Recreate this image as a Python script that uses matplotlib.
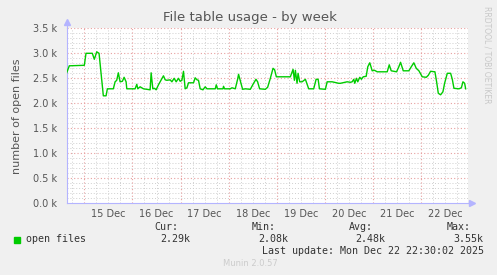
import numpy as np
import matplotlib
matplotlib.use("Agg")
import matplotlib.pyplot as plt
from matplotlib.ticker import MultipleLocator, FuncFormatter

# time in days of December 2025, value in thousands of open files
days = [14.634, 14.688, 15.000, 15.035, 15.166, 15.208, 15.258, 15.306, 15.395, 15.452,
        15.479, 15.603, 15.639, 15.673, 15.707, 15.743, 15.791, 15.826, 15.868, 15.882,
        16.055, 16.090, 16.111, 16.159, 16.228, 16.367, 16.388, 16.423, 16.457, 16.492,
        16.540, 16.575, 16.644, 16.679, 16.715, 16.783, 16.819, 16.866, 16.908, 16.956,
        16.991, 17.027, 17.060, 17.095, 17.131, 17.164, 17.268, 17.303, 17.339, 17.372,
        17.407, 17.464, 17.511, 17.547, 17.720, 17.741, 17.767, 17.880, 17.892, 17.913,
        18.032, 18.067, 18.136, 18.184, 18.204, 18.254, 18.288, 18.344, 18.448, 18.516,
        18.566, 18.600, 18.641, 18.760, 18.808, 18.864, 18.920, 18.953, 18.989, 19.280,
        19.316, 19.336, 19.364, 19.384, 19.419, 19.440, 19.474, 19.524, 19.592, 19.628,
        19.661, 19.765, 19.815, 19.857, 19.884, 20.008, 20.044, 20.148, 20.285, 20.320,
        20.460, 20.528, 20.564, 20.597, 20.618, 20.653, 20.680, 20.722, 20.757, 20.793,
        20.855, 20.888, 20.930, 20.980, 21.028, 21.084, 21.292, 21.334, 21.375, 21.486,
        21.533, 21.569, 21.625, 21.741, 21.791, 21.845, 21.895, 21.950, 22.020, 22.103,
        22.145, 22.193, 22.283, 22.318, 22.353, 22.401, 22.449, 22.484, 22.540, 22.609,
        22.644, 22.678, 22.782, 22.832, 22.865, 22.900, 22.921]
open_files = [2.61, 2.75, 2.76, 3.00, 3.00, 2.88, 3.03, 3.00, 2.15, 2.15,
              2.29, 2.29, 2.43, 2.46, 2.61, 2.43, 2.44, 2.52, 2.43, 2.29,
              2.29, 2.38, 2.29, 2.33, 2.29, 2.27, 2.61, 2.29, 2.30, 2.27,
              2.37, 2.43, 2.55, 2.47, 2.46, 2.47, 2.43, 2.50, 2.43, 2.50,
              2.44, 2.46, 2.64, 2.29, 2.31, 2.41, 2.41, 2.51, 2.47, 2.46,
              2.29, 2.27, 2.33, 2.29, 2.29, 2.37, 2.29, 2.29, 2.34, 2.29,
              2.29, 2.31, 2.29, 2.48, 2.58, 2.40, 2.28, 2.29, 2.28, 2.40,
              2.48, 2.43, 2.29, 2.28, 2.32, 2.50, 2.70, 2.67, 2.53, 2.53,
              2.63, 2.68, 2.46, 2.66, 2.40, 2.60, 2.43, 2.43, 2.48, 2.38,
              2.29, 2.29, 2.48, 2.48, 2.29, 2.28, 2.43, 2.43, 2.40, 2.40,
              2.43, 2.42, 2.43, 2.48, 2.40, 2.50, 2.43, 2.52, 2.48, 2.53,
              2.54, 2.73, 2.81, 2.65, 2.66, 2.63, 2.63, 2.77, 2.65, 2.63,
              2.73, 2.82, 2.65, 2.65, 2.73, 2.81, 2.70, 2.65, 2.53, 2.52,
              2.56, 2.64, 2.63, 2.43, 2.20, 2.17, 2.23, 2.40, 2.60, 2.60,
              2.48, 2.30, 2.29, 2.31, 2.43, 2.40, 2.29]

day_ticks = [15.5, 16.5, 17.5, 18.5, 19.5, 20.5, 21.5, 22.5]
day_labels = ["15 Dec", "16 Dec", "17 Dec", "18 Dec", "19 Dec", "20 Dec", "21 Dec", "22 Dec"]

bg = "#f0f0f0"
txt = "#555555"
axis_blue = "#b4b4ff"

fig = plt.figure(figsize=(4.97, 2.75), dpi=100, facecolor=bg)
W, H = 497, 275
x0, x1, ytop, ybot = 66.7, 468, 28.3, 203.3
ax = fig.add_axes([x0 / W, 1 - ybot / H, (x1 - x0) / W, (ybot - ytop) / H])
ax.set_facecolor("white")

# grid: minor gray, major red
for d in np.arange(14.75, 23.0, 0.25):
    if abs(d - round(d)) > 1e-6:
        ax.axvline(d, color="#cfcfcf", lw=0.7, ls=(0, (1, 2)), zorder=1)
for v in np.arange(0.1, 3.5, 0.1):
    if abs(v * 2 - round(v * 2)) > 1e-6:
        ax.axhline(v, color="#cfcfcf", lw=0.7, ls=(0, (1, 2)), zorder=1)
for d in range(15, 23):
    ax.axvline(d, color="#e8a0a0", lw=0.8, ls=(0, (1, 2)), zorder=1)
for v in np.arange(0.5, 3.51, 0.5):
    ax.axhline(v, color="#e8a0a0", lw=0.8, ls=(0, (1, 2)), zorder=1)

ax.plot(days, open_files, color="#00cc00", lw=1.0, zorder=3)

ax.set_xlim(14.634, 22.97)
ax.set_ylim(0, 3.5)
ax.set_xticks(day_ticks)
ax.set_xticklabels(day_labels)
ax.yaxis.set_major_locator(MultipleLocator(0.5))
ax.yaxis.set_major_formatter(FuncFormatter(lambda v, p: f"{v:.1f} k"))
ax.tick_params(axis="both", labelsize=7, colors=txt, length=0, pad=4)
ax.tick_params(axis="y", pad=7)
for s in ["top", "right"]:
    ax.spines[s].set_visible(False)
for s in ["left", "bottom"]:
    ax.spines[s].set_color(axis_blue)
    ax.spines[s].set_linewidth(0.8)

# axis arrows
ax.plot([0, 0], [1.0, 1.035], color=axis_blue, lw=0.8, transform=ax.transAxes, clip_on=False)
ax.plot([0], [1.035], marker="^", ms=4, color=axis_blue, transform=ax.transAxes, clip_on=False)
ax.plot([1.0, 1.01], [0, 0], color=axis_blue, lw=0.8, transform=ax.transAxes, clip_on=False)
ax.plot([1.01], [0], marker=">", ms=4, color=axis_blue, transform=ax.transAxes, clip_on=False)

ax.set_ylabel("number of open files", fontsize=8, color=txt, labelpad=8)
fig.text(250 / W, 1 - 18 / H, "File table usage - by week", ha="center", va="center",
         fontsize=9.5, color=txt)
fig.text(487 / W, 1 - 55 / H, "RRDTOOL / TOBI OETIKER", rotation=270, ha="center",
         va="center", fontsize=5.5, color="#c8c8c8")

mono = dict(family="DejaVu Sans Mono", fontsize=7.2, color="#333333", va="center")
fig.patches.append(plt.Rectangle((14 / W, 1 - 243 / H), 6 / W, 6 / H, color="#00cc00",
                                 transform=fig.transFigure, figure=fig))
fig.text(26 / W, 1 - 239.5 / H, "open files", ha="left", **mono)
stats = [("Cur:", 154, "2.29k", 160), ("Min:", 251.7, "2.08k", 258.3),
         ("Avg:", 349.3, "2.48k", 355.7), ("Max:", 446.7, "3.55k", 453.3)]
for head, hx, val, vx in stats:
    fig.text(hx / W, 1 - 227.5 / H, head, ha="left", **mono)
    fig.text(vx / W, 1 - 239.5 / H, val, ha="left", **mono)
fig.text(261.7 / W, 1 - 251 / H, "Last update: Mon Dec 22 22:30:02 2025", ha="left", **mono)
fig.text(223.3 / W, 1 - 264 / H, "Munin 2.0.57", ha="left", fontsize=6, color="#cccccc",
         va="center")

fig.savefig("out.png", dpi=100, facecolor=bg)
